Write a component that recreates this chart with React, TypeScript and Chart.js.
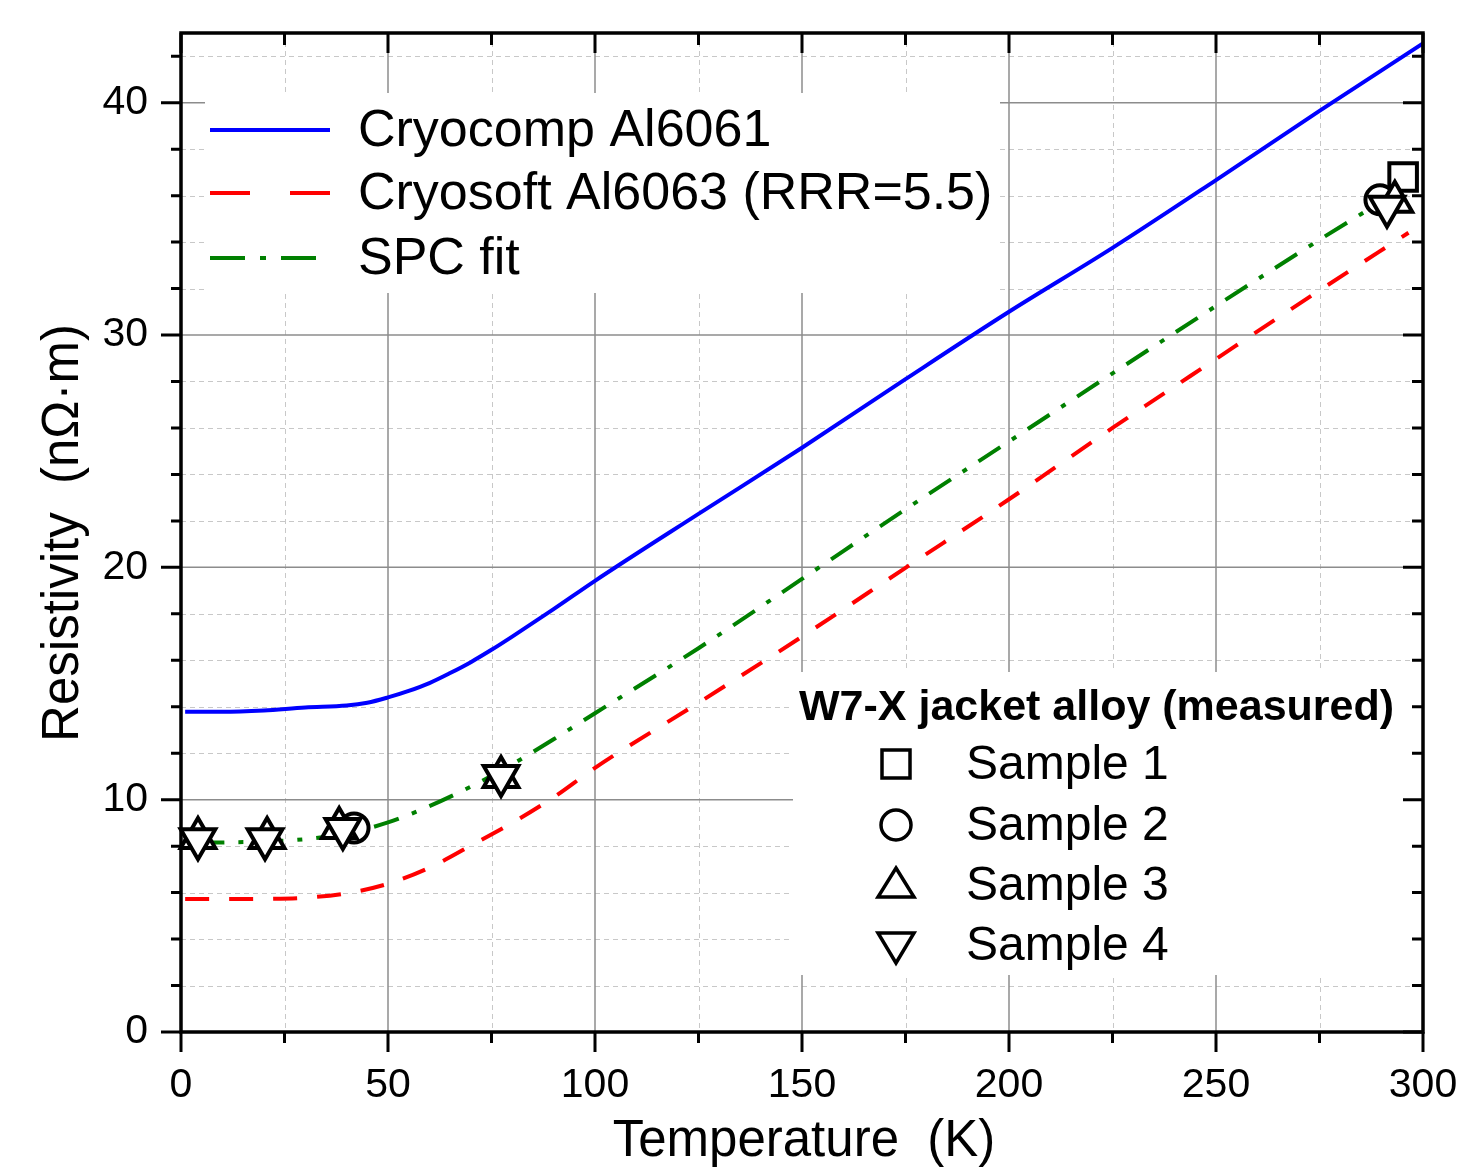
import React, { useEffect, useRef } from 'react';
import { Chart, registerables } from 'chart.js';

Chart.register(...registerables);

const FONT = "'Liberation Sans', Arial, Helvetica, sans-serif";

// ---- Curves (temperature K, resistivity nOhm·m) ----
const cryocompT = [1, 10, 20, 30, 40, 45, 50, 55, 60, 65, 70, 75, 80, 90, 100, 125, 150, 175, 200, 225, 250, 275, 300];
const cryocompR = [13.78, 13.78, 13.84, 13.97, 14.05, 14.17, 14.4, 14.68, 15.02, 15.45, 15.92, 16.45, 17.02, 18.2, 19.42, 22.3, 25.15, 28.1, 31.0, 33.75, 36.67, 39.65, 42.55];

const cryosoftT = [1, 10, 20, 30, 40, 50, 60, 70, 80, 90, 100, 125, 150, 175, 200, 225, 250, 275, 296.5];
const cryosoftR = [5.72, 5.72, 5.73, 5.78, 5.97, 6.38, 7.07, 8.02, 9.0, 10.1, 11.37, 14.17, 17.02, 19.98, 22.93, 26.0, 28.97, 31.92, 34.4];

const spcT = [4.2, 10, 20, 30, 40, 50, 60, 70, 80, 90, 100, 125, 150, 175, 200, 225, 250, 275, 290];
const spcR = [8.15, 8.16, 8.2, 8.3, 8.55, 9.02, 9.72, 10.56, 11.52, 12.6, 13.72, 16.52, 19.5, 22.5, 25.42, 28.35, 31.25, 34.1, 35.75];

// ---- Measured samples ----
const sample1T = [295.2];
const sample1R = [36.8];
const sample2T = [41.8, 289.6];
const sample2R = [8.78, 35.82];
const sample3T = [4.1, 20.8, 38.2, 77.3, 293.2];
const sample3R = [8.35, 8.35, 8.78, 10.98, 35.74];
const sample4T = [4.1, 20.3, 39.1, 77.3, 291.3];
const sample4R = [8.3, 8.3, 8.74, 11.02, 35.52];

// ---- Ticks ----
const xTickLabels = [0, 50, 100, 150, 200, 250, 300];
const xMinorTicks = [25, 75, 125, 175, 225, 275];
const yTickLabels = [0, 10, 20, 30, 40];
const yMinorTicks = [2, 4, 6, 8, 12, 14, 16, 18, 22, 24, 26, 28, 32, 34, 36, 38, 42];

// ---- Text ----
const lineLegendLabels = ['Cryocomp Al6061', 'Cryosoft Al6063 (RRR=5.5)', 'SPC fit'];
const sampleLegendTitle = 'W7-X jacket alloy (measured)';
const sampleLegendLabels = ['Sample 1', 'Sample 2', 'Sample 3', 'Sample 4'];
const xTitle = 'Temperature  (K)';
const yTitle = 'Resistivity  (nΩ·m)';

const toPts = (xs: number[], ys: number[]) => xs.map((x, i) => ({ x, y: ys[i] }));

const decorPlugin = {
  id: 'decor',
  beforeDatasetsDraw(chart: any) {
    const { ctx, chartArea: a, scales } = chart;
    const x = scales.x;
    const y = scales.y;
    ctx.save();
    // minor grid
    ctx.strokeStyle = '#c8c8c8';
    ctx.lineWidth = 1;
    ctx.setLineDash([5, 4]);
    xMinorTicks.forEach((v) => {
      const p = Math.round(x.getPixelForValue(v)) + 0.5;
      ctx.beginPath();
      ctx.moveTo(p, a.top);
      ctx.lineTo(p, a.bottom);
      ctx.stroke();
    });
    yMinorTicks.forEach((v) => {
      const p = Math.round(y.getPixelForValue(v)) + 0.5;
      ctx.beginPath();
      ctx.moveTo(a.left, p);
      ctx.lineTo(a.right, p);
      ctx.stroke();
    });
    // major grid
    ctx.setLineDash([]);
    ctx.strokeStyle = '#8c8c8c';
    ctx.lineWidth = 1.5;
    xTickLabels.forEach((v) => {
      const p = x.getPixelForValue(v);
      ctx.beginPath();
      ctx.moveTo(p, a.top);
      ctx.lineTo(p, a.bottom);
      ctx.stroke();
    });
    yTickLabels.forEach((v) => {
      const p = y.getPixelForValue(v);
      ctx.beginPath();
      ctx.moveTo(a.left, p);
      ctx.lineTo(a.right, p);
      ctx.stroke();
    });
    // legend backgrounds
    ctx.fillStyle = '#ffffff';
    ctx.fillRect(205, 93, 795, 200);
    ctx.fillRect(793, 672, 619, 303);
    ctx.restore();
  },
  afterDraw(chart: any) {
    const { ctx, chartArea: a, scales } = chart;
    const x = scales.x;
    const y = scales.y;
    ctx.save();
    ctx.strokeStyle = '#000';
    ctx.lineWidth = 3;
    ctx.setLineDash([]);
    // x ticks
    const allX = [...xTickLabels, ...xMinorTicks];
    allX.forEach((v) => {
      const major = xTickLabels.includes(v);
      const p = x.getPixelForValue(v);
      ctx.beginPath();
      ctx.moveTo(p, a.bottom);
      ctx.lineTo(p, a.bottom + (major ? 20 : 11));
      ctx.moveTo(p, a.top);
      ctx.lineTo(p, a.top + (major ? 20 : 12));
      ctx.stroke();
    });
    const allY = [...yTickLabels, ...yMinorTicks];
    allY.forEach((v) => {
      const major = yTickLabels.includes(v);
      const p = y.getPixelForValue(v);
      ctx.beginPath();
      ctx.moveTo(a.left - (major ? 20 : 10), p);
      ctx.lineTo(a.left, p);
      ctx.moveTo(a.right, p);
      ctx.lineTo(a.right - (major ? 20 : 11), p);
      ctx.stroke();
    });
    // frame
    ctx.lineWidth = 3.5;
    ctx.strokeRect(a.left, a.top, a.right - a.left, a.bottom - a.top);

    // line legend
    const lineStyles = [
      { color: '#0000ff', dash: [] as number[] },
      { color: '#ff0000', dash: [40, 40] },
      { color: '#008000', dash: [35, 15, 6, 15] },
    ];
    const lineRows = [130, 193, 258];
    ctx.lineWidth = 4;
    lineLegendLabels.forEach((label, i) => {
      ctx.strokeStyle = lineStyles[i].color;
      ctx.setLineDash(lineStyles[i].dash);
      ctx.beginPath();
      ctx.moveTo(210, lineRows[i]);
      ctx.lineTo(330, lineRows[i]);
      ctx.stroke();
      ctx.setLineDash([]);
      ctx.fillStyle = '#000';
      ctx.font = `52px ${FONT}`;
      ctx.textAlign = 'left';
      ctx.textBaseline = 'middle';
      ctx.fillText(label, 358, lineRows[i] + 2);
    });

    // sample legend
    ctx.fillStyle = '#000';
    ctx.font = `bold 43px ${FONT}`;
    ctx.textAlign = 'left';
    ctx.textBaseline = 'middle';
    ctx.fillText(sampleLegendTitle, 799, 708);
    const rows = [764, 825, 885, 945];
    const mx = 896;
    ctx.strokeStyle = '#000';
    ctx.lineWidth = 3.5;
    ctx.setLineDash([]);
    // square
    ctx.strokeRect(mx - 14, rows[0] - 14, 28, 28);
    // circle
    ctx.beginPath();
    ctx.arc(mx, rows[1], 15, 0, Math.PI * 2);
    ctx.stroke();
    // up triangle
    ctx.beginPath();
    ctx.moveTo(mx, rows[2] - 17);
    ctx.lineTo(mx + 18, rows[2] + 12);
    ctx.lineTo(mx - 18, rows[2] + 12);
    ctx.closePath();
    ctx.stroke();
    // down triangle
    ctx.beginPath();
    ctx.moveTo(mx, rows[3] + 18);
    ctx.lineTo(mx + 18, rows[3] - 12);
    ctx.lineTo(mx - 18, rows[3] - 12);
    ctx.closePath();
    ctx.stroke();
    ctx.font = `48px ${FONT}`;
    sampleLegendLabels.forEach((label, i) => {
      ctx.fillText(label, 966, rows[i] + 2);
    });

    // axis titles
    ctx.font = `51px ${FONT}`;
    ctx.textAlign = 'center';
    ctx.textBaseline = 'middle';
    ctx.fillText(xTitle, 804, 1142);
    ctx.save();
    ctx.translate(64, 533);
    ctx.rotate(-Math.PI / 2);
    ctx.fillText(yTitle, 0, 0);
    ctx.restore();

    ctx.restore();
  },
};

export default function App() {
  const ref = useRef<HTMLCanvasElement | null>(null);

  useEffect(() => {
    if (!ref.current) return;
    const markerBase = {
      showLine: false,
      borderColor: '#000',
      backgroundColor: '#ffffff',
      borderWidth: 4,
      pointBorderColor: '#000',
      pointBackgroundColor: '#ffffff',
      pointBorderWidth: 4,
      clip: false as any,
    };
    const curveBase = {
      showLine: true,
      pointRadius: 0,
      pointHoverRadius: 0,
      borderWidth: 4,
      fill: false,
      cubicInterpolationMode: 'monotone' as const,
    };
    const chart = new Chart(ref.current, {
      type: 'scatter',
      data: {
        datasets: [
          { ...markerBase, label: 'Sample 4', data: toPts(sample4T, sample4R), pointStyle: 'triangle', pointRadius: 20, pointRotation: 180 },
          { ...markerBase, label: 'Sample 3', data: toPts(sample3T, sample3R), pointStyle: 'triangle', pointRadius: 20 },
          { ...markerBase, label: 'Sample 2', data: toPts(sample2T, sample2R), pointStyle: 'circle', pointRadius: 14.5 },
          { ...markerBase, label: 'Sample 1', data: toPts(sample1T, sample1R), pointStyle: 'rect', pointRadius: 19.5 },
          { ...curveBase, label: lineLegendLabels[0], data: toPts(cryocompT, cryocompR), borderColor: '#0000ff' },
          { ...curveBase, label: lineLegendLabels[1], data: toPts(cryosoftT, cryosoftR), borderColor: '#ff0000', borderDash: [24, 20] },
          { ...curveBase, label: lineLegendLabels[2], data: toPts(spcT, spcR), borderColor: '#008000', borderDash: [26, 14, 5, 14] },
        ],
      },
      options: {
        animation: false,
        responsive: false,
        events: [],
        layout: { padding: { top: 33, right: 35, left: 0, bottom: 0 } },
        plugins: { legend: { display: false }, tooltip: { enabled: false }, title: { display: false } },
        scales: {
          x: {
            type: 'linear',
            min: 0,
            max: 300,
            grid: { display: false, drawTicks: false },
            border: { display: false },
            afterFit: (s: any) => { s.height = 138; s.paddingLeft = 0; s.paddingRight = 0; },
            afterBuildTicks: (s: any) => { s.ticks = xTickLabels.map((v) => ({ value: v })); },
            ticks: { padding: 29, color: '#000', font: { family: FONT, size: 41 }, maxRotation: 0, autoSkip: false },
          },
          y: {
            type: 'linear',
            min: 0,
            max: 43,
            grid: { display: false, drawTicks: false },
            border: { display: false },
            afterFit: (s: any) => { s.width = 181; s.paddingTop = 0; s.paddingBottom = 0; },
            afterBuildTicks: (s: any) => { s.ticks = yTickLabels.map((v) => ({ value: v })); },
            ticks: { padding: 33, color: '#000', font: { family: FONT, size: 41 }, autoSkip: false },
          },
        },
      },
      plugins: [decorPlugin],
    } as any);
    return () => chart.destroy();
  }, []);

  return (
    <div style={{ position: 'absolute', left: 0, top: 0, width: 1458, height: 1170, background: '#fff' }}>
      <canvas ref={ref} width={1458} height={1170} style={{ width: 1458, height: 1170, display: 'block' }} />
    </div>
  );
}
